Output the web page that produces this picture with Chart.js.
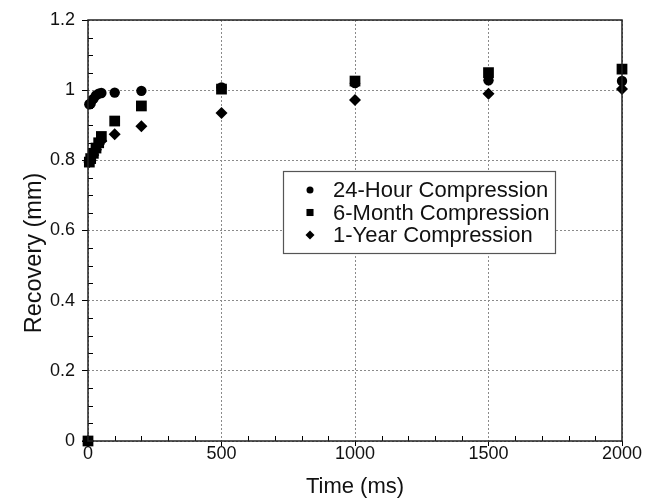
<!DOCTYPE html>
<html>
<head>
<meta charset="utf-8">
<title>Recovery vs Time</title>
<script src="https://cdn.jsdelivr.net/npm/chart.js@4.4.1/dist/chart.umd.min.js"></script>
<style>
  html, body { margin: 0; padding: 0; background: #fff; }
  #wrap { width: 652px; height: 504px; }
</style>
</head>
<body>
<div id="wrap"><canvas id="chart" width="652" height="504"></canvas></div>
<script>
// ---------- Data ----------
const times = [0, 5, 10, 20, 30, 40, 50, 100, 200, 500, 1000, 1500, 2000];
const hour24 = [0, 0.96, 0.962, 0.975, 0.985, 0.99, 0.992, 0.993, 0.998, 1.008, 1.02, 1.028, 1.026];
const month6 = [0, 0.795, 0.805, 0.82, 0.835, 0.85, 0.868, 0.912, 0.955, 1.003, 1.026, 1.05, 1.06];
const year1 = [0, 0.795, 0.8, 0.815, 0.83, 0.845, 0.855, 0.874, 0.897, 0.935, 0.972, 0.99, 1.003];

const seriesNames = ['24-Hour Compression', '6-Month Compression', '1-Year Compression'];
const xTicks = [0, 500, 1000, 1500, 2000];
const yTicks = [0, 0.2, 0.4, 0.6, 0.8, 1, 1.2];
const yTitle = 'Recovery (mm)';

const FONT = "'Liberation Sans', Arial, sans-serif";

function toPoints(vals) {
  return times.map((t, i) => ({ x: t, y: vals[i] }));
}

// ---------- Plugins ----------
const frameAndLegend = {
  id: 'frameAndLegend',
  afterDraw(chart) {
    const { ctx, chartArea: a, scales: { x, y } } = chart;
    ctx.save();

    // minor ticks (inward)
    ctx.strokeStyle = '#000';
    ctx.lineWidth = 1;
    ctx.beginPath();
    for (let v = 100; v < 2000; v += 100) {
      if (v % 500 === 0) continue;
      const px = Math.round(x.getPixelForValue(v)) + 0.5;
      ctx.moveTo(px, a.bottom);
      ctx.lineTo(px, a.bottom - 5);
    }
    for (let k = 1; k < 24; k++) {
      if (k % 4 === 0) continue;
      const py = Math.round(y.getPixelForValue(k * 0.05)) + 0.5;
      ctx.moveTo(a.left, py);
      ctx.lineTo(a.left + 5, py);
    }
    ctx.stroke();

    // frame
    ctx.lineWidth = 1.5;
    ctx.strokeStyle = '#222';
    ctx.strokeRect(a.left, a.top, a.right - a.left, a.bottom - a.top);

    // y title
    ctx.save();
    ctx.translate(35, 253);
    ctx.rotate(-Math.PI / 2);
    ctx.font = '23.5px ' + FONT;
    ctx.fillStyle = '#111';
    ctx.textAlign = 'center';
    ctx.textBaseline = 'middle';
    ctx.fillText(yTitle, 0, 0);
    ctx.restore();

    // legend box
    const bx = 283, by = 171, bw = 272, bh = 82;
    ctx.fillStyle = '#fff';
    ctx.fillRect(bx, by, bw, bh);
    ctx.lineWidth = 1.2;
    ctx.strokeStyle = '#555';
    ctx.strokeRect(bx + 0.5, by + 0.5, bw, bh);

    const styles = ['circle', 'rect', 'rectRot'];
    const radii = [3.5, 5, 4.5];
    ctx.font = '22px ' + FONT;
    ctx.textBaseline = 'middle';
    ctx.textAlign = 'left';
    seriesNames.forEach((name, i) => {
      const cy = 190 + i * 22.5;
      ctx.fillStyle = '#000';
      ctx.strokeStyle = '#000';
      ctx.lineWidth = 1;
      Chart.helpers.drawPoint(ctx, { pointStyle: styles[i], radius: radii[i], rotation: 0, borderWidth: 0 }, 310, cy);
      ctx.fillStyle = '#111';
      ctx.fillText(name, 333, cy + 1);
    });

    ctx.restore();
  }
};

// ---------- Chart ----------
const common = { showLine: false, backgroundColor: '#000', borderColor: '#000', borderWidth: 0, clip: false };

new Chart(document.getElementById('chart'), {
  type: 'scatter',
  data: {
    datasets: [
      { ...common, label: seriesNames[0], data: toPoints(hour24), pointStyle: 'circle', pointRadius: 5.2, order: 1 },
      { ...common, label: seriesNames[1], data: toPoints(month6), pointStyle: 'rect', pointRadius: 7.6, order: 0 },
      { ...common, label: seriesNames[2], data: toPoints(year1), pointStyle: 'rectRot', pointRadius: 6, order: 2 }
    ]
  },
  options: {
    responsive: false,
    animation: false,
    events: [],
    layout: { padding: { top: 20, right: 30, left: 0, bottom: 0 } },
    plugins: { legend: { display: false }, tooltip: { enabled: false } },
    scales: {
      x: {
        type: 'linear',
        min: 0, max: 2000,
        afterFit(scale) { scale.height = 63; },
        afterBuildTicks(scale) { scale.ticks = xTicks.map(v => ({ value: v })); },
        ticks: { color: '#111', font: { family: FONT, size: 18 }, padding: -3, maxRotation: 0, callback: v => String(v) },
        grid: { color: '#8a8a8a', lineWidth: 1, tickColor: '#000', tickLength: 5, tickBorderDash: [] },
        border: { display: false, dash: [2, 2] },
        title: { display: true, text: 'Time (ms)', color: '#111', font: { family: FONT, size: 22 }, padding: { top: 0, bottom: 4 } }
      },
      y: {
        type: 'linear',
        min: 0, max: 1.2,
        afterFit(scale) { scale.width = 88; },
        afterBuildTicks(scale) { scale.ticks = yTicks.map(v => ({ value: v })); },
        ticks: {
          color: '#111', font: { family: FONT, size: 18 }, padding: 7,
          callback: v => String(Number(v.toFixed(1)))
        },
        grid: { color: '#8a8a8a', lineWidth: 1, tickColor: '#000', tickLength: 6, tickBorderDash: [] },
        border: { display: false, dash: [2, 2] },
        title: { display: false }
      }
    }
  },
  plugins: [frameAndLegend]
});
</script>
</body>
</html>
